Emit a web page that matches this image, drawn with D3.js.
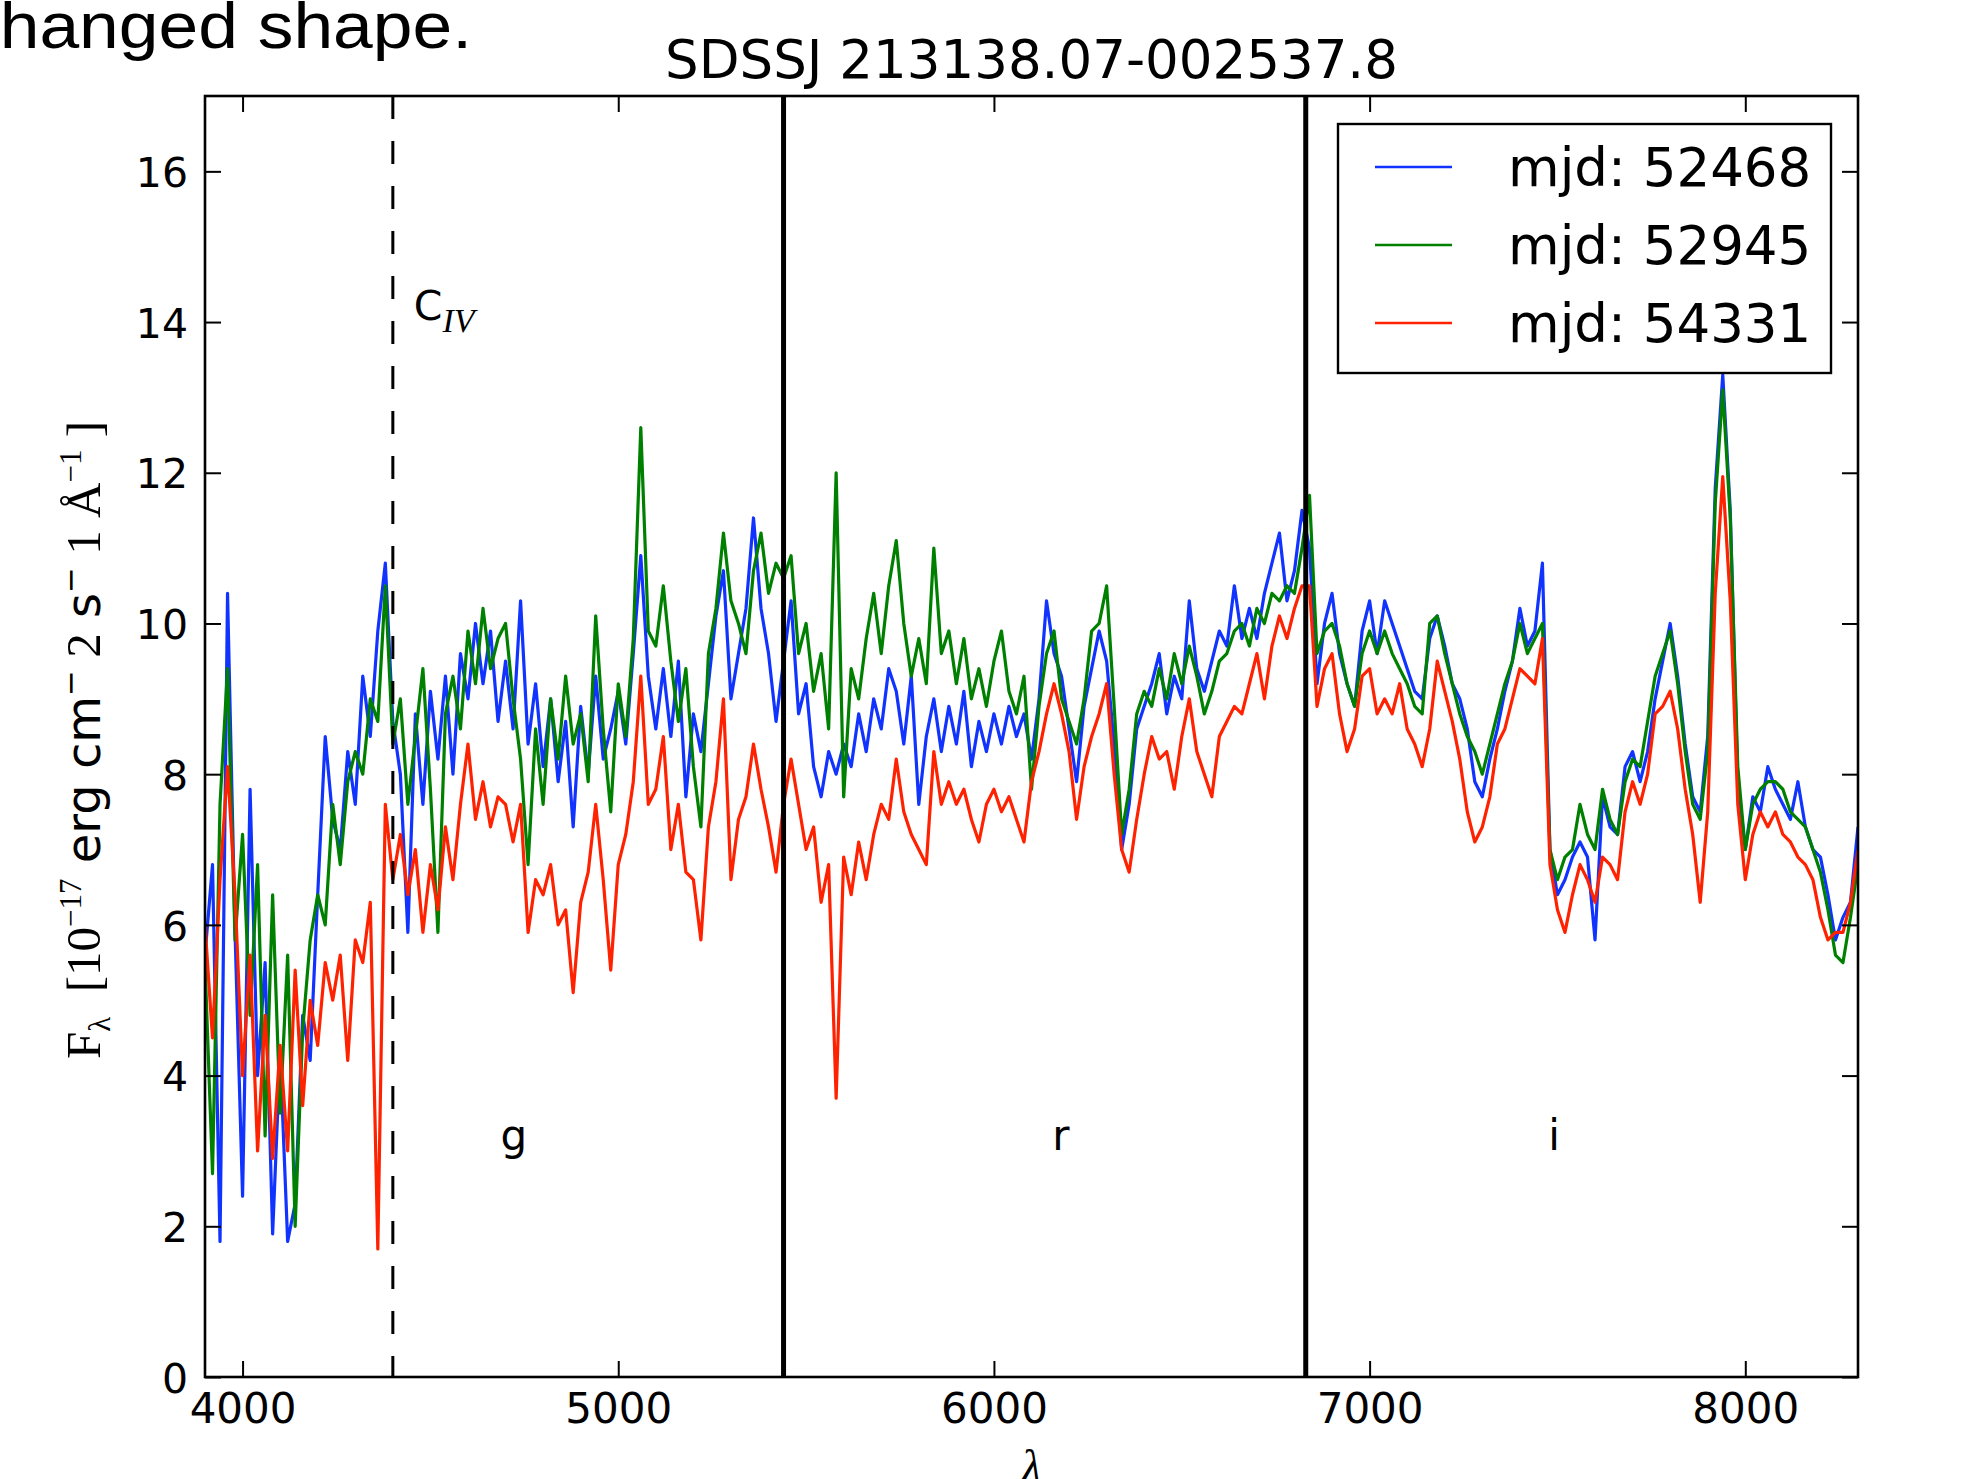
<!DOCTYPE html>
<html><head><meta charset="utf-8">
<script src="https://cdn.jsdelivr.net/npm/d3@7"></script>
<style>body{margin:0;background:#fff;}svg{display:block;}</style>
</head><body>
<svg id="chart" width="1983" height="1479"></svg>
<script>
// ---- data ----
const wavelength = [
3900,3920,3940,3960,3980,4000,4020,4040,4060,4080,4100,4120,4140,4160,4180,4200,4220,4240,4260,4280,
4300,4320,4340,4360,4380,4400,4420,4440,4460,4480,4500,4520,4540,4560,4580,4600,4620,4640,4660,4680,
4700,4720,4740,4760,4780,4800,4820,4840,4860,4880,4900,4920,4940,4960,4980,5000,5020,5040,5060,5080,
5100,5120,5140,5160,5180,5200,5220,5240,5260,5280,5300,5320,5340,5360,5380,5400,5420,5440,5460,5480,
5500,5520,5540,5560,5580,5600,5620,5640,5660,5680,5700,5720,5740,5760,5780,5800,5820,5840,5860,5880,
5900,5920,5940,5960,5980,6000,6020,6040,6060,6080,6100,6120,6140,6160,6180,6200,6220,6240,6260,6280,
6300,6320,6340,6360,6380,6400,6420,6440,6460,6480,6500,6520,6540,6560,6580,6600,6620,6640,6660,6680,
6700,6720,6740,6760,6780,6800,6820,6840,6860,6880,6900,6920,6940,6960,6980,7000,7020,7040,7060,7080,
7100,7120,7140,7160,7180,7200,7220,7240,7260,7280,7300,7320,7340,7360,7380,7400,7420,7440,7460,7480,
7500,7520,7540,7560,7580,7600,7620,7640,7660,7680,7700,7720,7740,7760,7780,7800,7820,7840,7860,7880,
7900,7920,7940,7960,7980,8000,8020,8040,8060,8080,8100,8120,8140,8160,8180,8200,8220,8240,8260,8280,
8300];

const flux52468 = [
5.6,6.8,1.8,10.4,5.9,2.4,7.8,4.0,5.5,1.9,4.3,1.8,2.3,4.8,4.2,6.4,8.5,7.4,7.0,8.3,
7.6,9.3,8.5,9.9,10.8,8.7,
8.0,5.9,8.8,7.6,9.1,8.2,9.3,8.0,9.6,9.0,10.0,9.2,9.9,8.7,9.5,8.6,10.3,8.4,9.2,8.1,
9.0,7.9,8.7,7.3,8.9,8.0,9.3,8.2,8.6,9.1,8.4,9.6,10.9,9.3,8.6,9.4,8.5,9.5,7.7,8.8,
8.3,9.2,10.1,10.7,9.0,9.6,10.2,11.4,10.2,9.6,8.7,9.5,
10.3,8.8,9.2,8.1,7.7,8.3,8.0,8.4,8.1,8.8,8.3,9.0,8.6,9.4,9.1,8.4,9.3,7.6,8.5,9.0,
8.3,8.9,8.4,9.1,8.1,8.7,8.3,8.8,8.4,8.9,8.5,8.8,8.2,9.0,10.3,9.6,9.3,8.6,7.9,8.9,
9.4,9.9,9.5,8.4,7.0,7.6,8.6,8.9,9.2,9.6,8.8,9.3,9.0,10.3,9.4,9.1,9.5,9.9,9.7,10.5,
9.8,10.2,9.8,10.4,10.8,11.2,10.3,10.7,11.5,
11.0,9.2,10.0,10.4,9.6,9.2,8.9,9.9,10.3,9.6,10.3,10.0,9.7,9.4,9.1,9.0,9.8,10.1,9.7,9.2,
9.0,8.6,7.9,7.7,8.2,8.6,9.1,9.5,10.2,9.7,9.9,10.8,7.0,6.4,6.6,6.9,7.1,6.9,5.8,7.7,
7.3,7.2,8.1,8.3,7.9,8.3,9.0,9.5,10.0,9.3,8.4,7.7,7.5,8.5,11.8,13.3,11.5,7.9,7.0,7.7,
7.5,8.1,7.8,7.6,7.4,7.9,7.3,7.0,6.9,6.4,5.8,6.1,6.3,7.3];

const flux52945 = [
5.5,2.7,7.6,9.4,5.8,7.2,4.8,6.8,3.2,6.4,3.5,5.6,2.0,4.6,5.8,6.4,6.0,7.6,6.8,7.9,
8.3,8.0,9.0,8.7,10.5,8.4,
9.0,7.6,8.5,9.4,7.8,5.9,8.8,9.3,8.6,9.9,9.2,10.2,9.4,9.8,10.0,9.0,8.2,6.8,8.6,7.6,
9.0,8.2,9.3,8.4,8.8,7.9,10.1,8.6,7.5,9.2,8.5,9.8,12.6,9.9,9.7,10.5,9.5,8.7,9.4,8.1,
7.3,9.6,10.2,11.2,10.3,10.0,9.6,10.7,11.2,10.4,10.8,10.6,
10.9,9.6,10.0,9.1,9.6,8.6,12.0,7.7,9.4,9.0,9.8,10.4,9.6,10.5,11.1,10.0,9.3,9.8,9.2,11.0,
9.6,9.9,9.2,9.8,9.0,9.4,8.9,9.5,9.9,9.1,8.8,9.3,7.8,8.9,9.6,9.9,9.0,8.7,8.4,9.0,
9.9,10.0,10.5,8.9,7.2,7.8,8.8,9.1,8.9,9.4,9.0,9.6,9.2,9.7,9.3,8.8,9.1,9.5,9.6,9.9,
10.0,9.7,10.2,10.0,10.4,10.3,10.5,10.4,11.0,
11.7,9.6,9.9,10.0,9.7,9.2,8.9,9.6,9.9,9.6,9.9,9.6,9.4,9.2,8.9,8.8,10.0,10.1,9.6,9.2,
8.8,8.5,8.3,8.0,8.4,8.8,9.2,9.5,10.0,9.6,9.8,10.0,7.0,6.6,6.9,7.0,7.6,7.2,7.0,7.8,
7.4,7.2,7.9,8.2,8.1,8.7,9.3,9.6,9.9,9.2,8.3,7.6,7.4,8.3,11.6,13.1,11.4,8.1,7.0,7.6,
7.8,7.9,7.9,7.8,7.5,7.4,7.3,7.0,6.7,6.2,5.6,5.5,6.1,6.8];

const flux54331 = [
6.0,4.5,6.6,8.1,6.4,4.0,5.6,3.0,4.8,2.9,4.4,3.0,5.4,3.6,5.0,4.4,5.5,5.0,5.6,4.2,
5.8,5.5,6.3,1.7,7.6,6.6,
7.2,6.4,7.0,5.9,6.8,6.2,7.3,6.6,7.6,8.4,7.4,7.9,7.3,7.7,7.6,7.1,7.6,5.9,6.6,6.4,
6.8,6.0,6.2,5.1,6.3,6.7,7.6,6.6,5.4,6.8,7.2,7.9,9.3,7.6,7.8,8.5,7.0,7.6,6.7,6.6,
5.8,7.3,7.9,9.0,6.6,7.4,7.7,8.4,7.8,7.3,6.7,7.6,
8.2,7.6,7.0,7.3,6.3,6.8,3.7,6.9,6.4,7.1,6.6,7.2,7.6,7.4,8.2,7.5,7.2,7.0,6.8,8.3,
7.6,7.9,7.6,7.8,7.4,7.1,7.6,7.8,7.5,7.7,7.4,7.1,7.9,8.3,8.8,9.2,8.8,8.3,7.4,8.1,
8.5,8.8,9.2,8.0,7.0,6.7,7.4,8.0,8.5,8.2,8.3,7.8,8.5,9.0,8.3,8.0,7.7,8.5,8.7,8.9,
8.8,9.2,9.6,9.0,9.7,10.1,9.8,10.2,10.5,
10.5,8.9,9.4,9.6,8.8,8.3,8.6,9.3,9.4,8.8,9.0,8.8,9.2,8.6,8.4,8.1,8.6,9.5,9.1,8.7,
8.2,7.5,7.1,7.3,7.7,8.4,8.6,9.0,9.4,9.3,9.2,9.8,6.8,6.2,5.9,6.4,6.8,6.6,6.3,6.9,
6.8,6.6,7.5,7.9,7.6,8.0,8.8,8.9,9.1,8.6,7.8,7.2,6.3,7.5,10.4,11.95,10.3,7.6,6.6,7.2,
7.5,7.3,7.5,7.2,7.1,6.9,6.8,6.6,6.1,5.8,5.9,5.9,6.3,7.0];

const seriesLabels = ["mjd: 52468", "mjd: 52945", "mjd: 54331"];
const seriesColors = ["#1133ff", "#008000", "#ff2200"];
const xTicks = [4000, 5000, 6000, 7000, 8000];
const yTicks = [0, 2, 4, 6, 8, 10, 12, 14, 16];
const bandEdges = [5440, 6830];
const civWavelength = 4400;
const bandNames = ["g", "r", "i"];
const bandNameWavelength = [4722, 6178, 7491];
const chartTitle = "SDSSJ 213138.07-002537.8";

// ---- layout ----
const plot = {left: 205, right: 1858, top: 96, bottom: 1377};
const x = d3.scaleLinear().domain([3900, 8300]).range([plot.left, plot.right]);
const y = d3.scaleLinear().domain([0, 17]).range([plot.bottom, plot.top]);
const svg = d3.select("#chart");
const SANS = '"DejaVu Sans", sans-serif';
const SERIF = '"Liberation Serif", "DejaVu Serif", serif';

svg.append("rect").attr("width", 1983).attr("height", 1479).attr("fill", "#fff");

// slide text fragment (clipped at the left edge, as in the reference)
svg.append("text").attr("x", -36).attr("y", 48)
  .attr("textLength", 508).attr("lengthAdjust", "spacingAndGlyphs")
  .style("font-family", '"Liberation Sans", Arial, sans-serif').style("font-size", "64px")
  .attr("fill", "#000").text("changed shape.");

svg.append("defs").append("clipPath").attr("id", "clip").append("rect")
  .attr("x", plot.left).attr("y", plot.top)
  .attr("width", plot.right - plot.left).attr("height", plot.bottom - plot.top);

// spectra
const line = d3.line().x((d, i) => x(wavelength[i])).y(d => y(d));
[flux52468, flux52945, flux54331].forEach((s, k) => {
  svg.append("path").attr("clip-path", "url(#clip)").attr("d", line(s))
    .attr("fill", "none").attr("stroke", seriesColors[k])
    .attr("stroke-width", 3.2).attr("stroke-linejoin", "round");
});

// band edges and C IV line
bandEdges.forEach(b => svg.append("line")
  .attr("x1", x(b)).attr("x2", x(b)).attr("y1", plot.top).attr("y2", plot.bottom)
  .attr("stroke", "#000").attr("stroke-width", 5));
svg.append("line").attr("x1", x(civWavelength)).attr("x2", x(civWavelength))
  .attr("y1", plot.top).attr("y2", plot.bottom)
  .attr("stroke", "#000").attr("stroke-width", 3).attr("stroke-dasharray", "23,22");

// axes
const tick = 16;
const gb = svg.append("g").attr("transform", `translate(0,${plot.bottom})`)
  .call(d3.axisBottom(x).tickValues(xTicks).tickSize(-tick).tickFormat(d3.format("d")));
gb.selectAll("text").attr("y", 46).attr("dy", null)
  .style("font-family", SANS).style("font-size", "42px").attr("fill", "#000");
const gt = svg.append("g").attr("transform", `translate(0,${plot.top})`)
  .call(d3.axisTop(x).tickValues(xTicks).tickSize(-tick).tickFormat(""));
const gl = svg.append("g").attr("transform", `translate(${plot.left},0)`)
  .call(d3.axisLeft(y).tickValues(yTicks).tickSize(-tick).tickFormat(d3.format("d")));
gl.selectAll("text").attr("x", -17).attr("dy", "0.37em")
  .style("font-family", SANS).style("font-size", "41px").attr("fill", "#000");
const gr = svg.append("g").attr("transform", `translate(${plot.right},0)`)
  .call(d3.axisRight(y).tickValues(yTicks).tickSize(-tick).tickFormat(""));
[gb, gt, gl, gr].forEach(g => {
  g.select(".domain").remove();
  g.selectAll(".tick line").attr("stroke", "#000").attr("stroke-width", 2);
});

// frame
svg.append("rect").attr("x", plot.left).attr("y", plot.top)
  .attr("width", plot.right - plot.left).attr("height", plot.bottom - plot.top)
  .attr("fill", "none").attr("stroke", "#000").attr("stroke-width", 2.6);

// C IV label
const civ = svg.append("text").attr("x", x(civWavelength) + 21).attr("y", 320).attr("fill", "#000");
civ.append("tspan").style("font-family", SANS).style("font-size", "41px").text("C");
civ.append("tspan").attr("dy", 12).style("font-family", SERIF).style("font-style", "italic")
  .style("font-size", "34px").text("IV");

// band names
bandNames.forEach((n, i) => svg.append("text").attr("x", x(bandNameWavelength[i])).attr("y", 1150)
  .attr("text-anchor", "middle").style("font-family", SANS).style("font-size", "42px")
  .attr("fill", "#000").text(n));

// title
svg.append("text").attr("x", (plot.left + plot.right) / 2).attr("y", 78)
  .attr("text-anchor", "middle").style("font-family", SANS).style("font-size", "53px")
  .attr("fill", "#000").text(chartTitle);

// x label (cut by the bottom edge, as in the reference)
svg.append("text").attr("x", (plot.left + plot.right) / 2).attr("y", 1482)
  .attr("text-anchor", "middle").style("font-family", SERIF).style("font-style", "italic")
  .style("font-size", "46px").attr("fill", "#000").text("λ");

// y label
const yl = svg.append("text").attr("transform", "translate(100,740) rotate(-90)")
  .attr("text-anchor", "middle").attr("fill", "#000").style("font-size", "48px");
const parts = [
  ["F", SERIF, 49, 0], ["λ", SERIF, 31, 10], ["  [10", SERIF, 49, -10], ["−17", SERIF, 31, -19],
  [" erg cm", SANS, 48, 19], ["−", SANS, 31, -19], [" 2", SERIF, 49, 19], [" s", SANS, 48, 0],
  ["−", SANS, 31, -19], [" 1 Å", SERIF, 49, 19], ["−1", SERIF, 31, -19], [" ]", SERIF, 49, 19]
];
parts.forEach(p => yl.append("tspan").attr("dy", p[3]).style("font-family", p[1])
  .style("font-size", p[2] + "px").style("white-space", "pre").text(p[0]));

// legend
const lg = svg.append("g");
lg.append("rect").attr("x", 1338).attr("y", 124).attr("width", 493).attr("height", 249)
  .attr("fill", "#fff").attr("stroke", "#000").attr("stroke-width", 2.4);
seriesLabels.forEach((s, i) => {
  const yy = 167 + i * 78;
  lg.append("line").attr("x1", 1375).attr("x2", 1452).attr("y1", yy).attr("y2", yy)
    .attr("stroke", seriesColors[i]).attr("stroke-width", 2.6);
  lg.append("text").attr("x", 1508).attr("y", yy + 19).style("font-family", SANS)
    .style("font-size", "53px").attr("fill", "#000").text(s);
});
</script>
</body></html>
